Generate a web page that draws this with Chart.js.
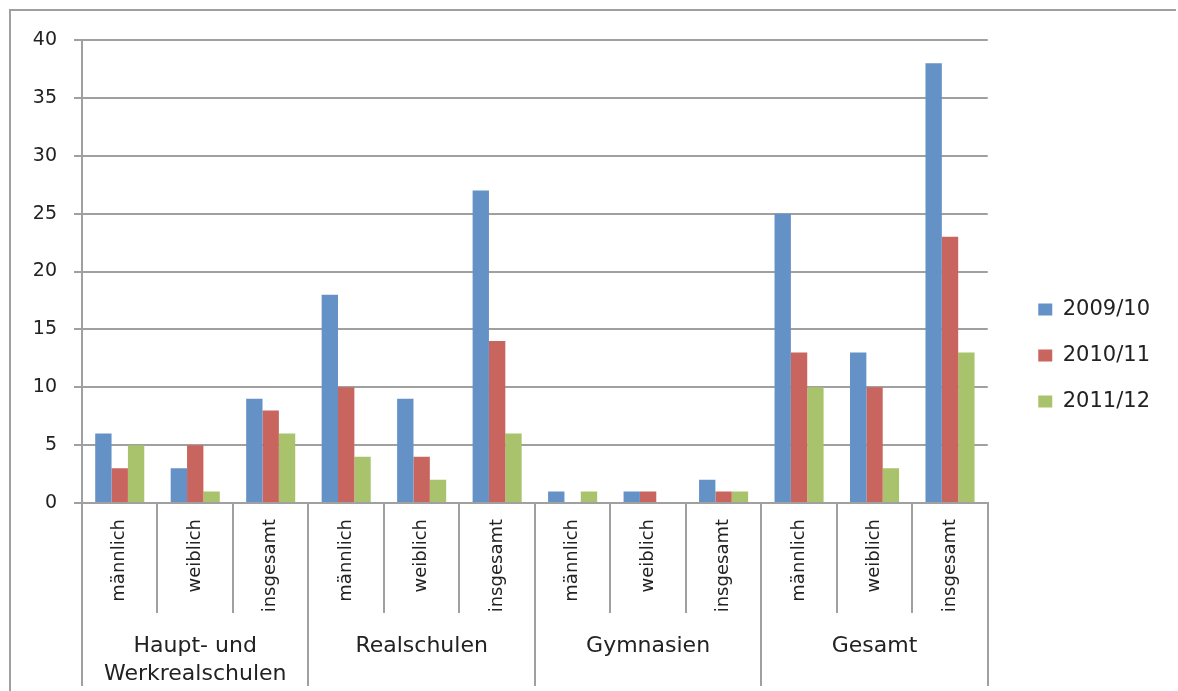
<!DOCTYPE html>
<html>
<head>
<meta charset="utf-8">
<script src="https://cdn.jsdelivr.net/npm/chart.js@4.4.1/dist/chart.umd.min.js"></script>
<style>
html,body{margin:0;padding:0;background:#fff;overflow:hidden;}
canvas{display:block;}
</style>
</head>
<body>
<canvas id="c" width="1178" height="691"></canvas>
<script>
const categories = ['männlich','weiblich','insgesamt','männlich','weiblich','insgesamt','männlich','weiblich','insgesamt','männlich','weiblich','insgesamt'];
const groups = [['Haupt- und','Werkrealschulen'],'Realschulen','Gymnasien','Gesamt'];
const seriesNames = ['2009/10','2010/11','2011/12'];
const values2009 = [6,3,9,18,9,27,1,1,2,25,13,38];
const values2010 = [3,5,8,10,4,14,0,1,1,13,10,23];
const values2011 = [5,1,6,4,2,6,1,0,1,10,3,13];
const yMin = 0, yMax = 40, yStep = 5;

const colors = ['#6592C6','#C9655F','#A8C36B'];
const gridColor = '#A0A0A0';
const textColor = '#222';
const FONT = 'DejaVu Sans';

const framePlugin = {
  id: 'frame',
  beforeDraw(chart) {
    const ctx = chart.ctx;
    ctx.save();
    ctx.fillStyle = '#fff';
    ctx.fillRect(0, 0, chart.width, chart.height);
    ctx.fillStyle = gridColor;
    ctx.fillRect(9, 9, 2, chart.height - 9);
    ctx.fillRect(9, 9, chart.width - 11, 2);
    ctx.restore();
  }
};

new Chart(document.getElementById('c'), {
  type: 'bar',
  data: {
    labels: categories,
    datasets: [
      { label: seriesNames[0], data: values2009, backgroundColor: colors[0] },
      { label: seriesNames[1], data: values2010, backgroundColor: colors[1] },
      { label: seriesNames[2], data: values2011, backgroundColor: colors[2] }
    ]
  },
  options: {
    responsive: false,
    devicePixelRatio: 1,
    animation: false,
    categoryPercentage: 0.65,
    barPercentage: 1.0,
    layout: { padding: { top: 40, left: 0, right: 18, bottom: 0 } },
    plugins: {
      legend: {
        position: 'right',
        align: 'start',
        title: { display: true, text: '', font: { size: 10, lineHeight: 1 }, padding: { top: 224, bottom: 0 } },
        labels: {
          boxWidth: 14, boxHeight: 12, padding: 25,
          font: { family: FONT, size: 21 }, color: textColor
        }
      },
      tooltip: { enabled: false }
    },
    scales: {
      x: {
        type: 'category', position: 'bottom', weight: 0, offset: true,
        grid: { offset: true, drawOnChartArea: false, drawTicks: true, tickLength: 110, color: gridColor, lineWidth: 2 },
        border: { display: true, color: gridColor, width: 2 },
        ticks: { autoSkip: false, minRotation: 90, maxRotation: 90, padding: -94,
                 font: { family: FONT, size: 18 }, color: textColor },
        afterFit(s) { s.height = 110; }
      },
      x2: {
        type: 'category', labels: groups, position: 'bottom', weight: 1, offset: true,
        grid: { offset: true, drawOnChartArea: false, drawTicks: true, tickLength: 73, color: gridColor, lineWidth: 2 },
        border: { display: false },
        ticks: { autoSkip: false, minRotation: 0, maxRotation: 0, padding: -53,
                 font: { family: FONT, size: 22, lineHeight: 1.25 }, color: textColor },
        afterFit(s) { s.height = 78; }
      },
      y: {
        min: yMin, max: yMax,
        ticks: { stepSize: yStep, padding: 17, font: { family: FONT, size: 19 }, color: textColor },
        grid: { color: gridColor, lineWidth: 2, tickLength: 8 },
        border: { color: gridColor, width: 2 },
        afterFit(s) { s.width = 82; }
      },
      y2: {
        position: 'right', display: true,
        grid: { display: false }, ticks: { display: false }, border: { display: false },
        afterFit(s) { s.width = 25.5; }
      }
    }
  },
  plugins: [framePlugin]
});
</script>
</body>
</html>
